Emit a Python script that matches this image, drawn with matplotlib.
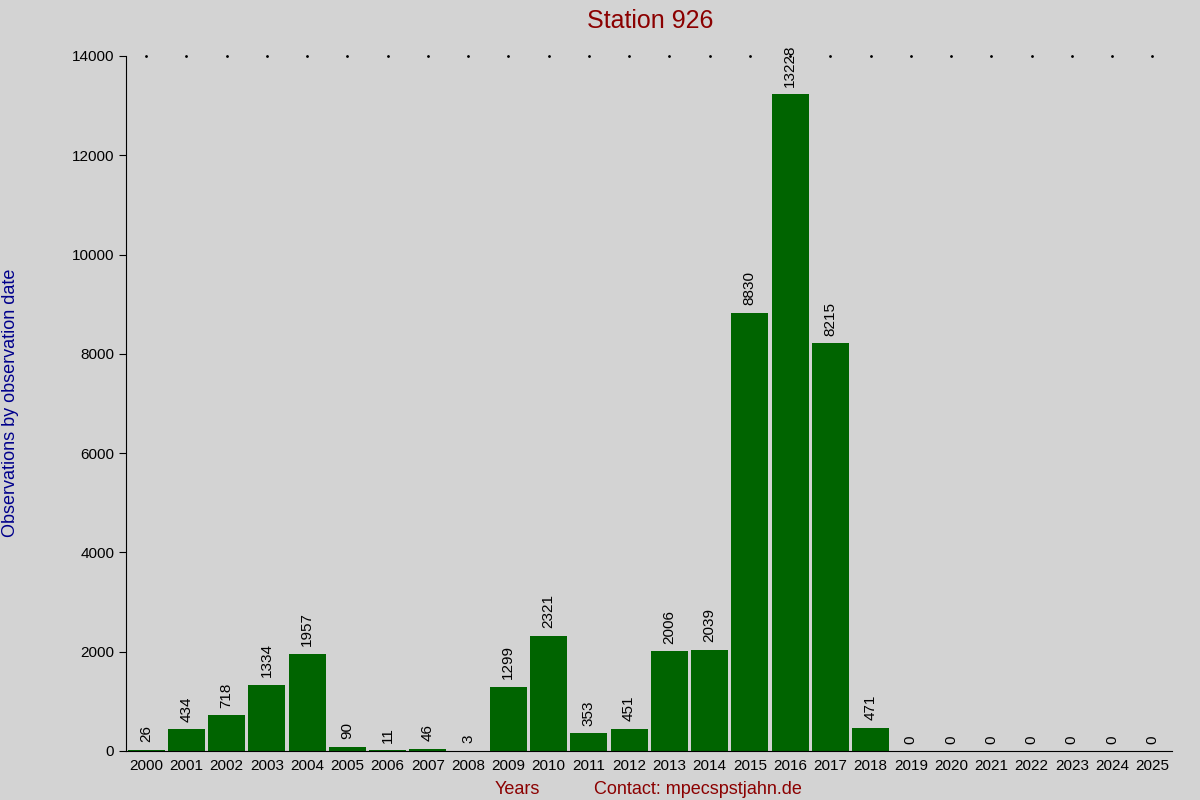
import matplotlib
matplotlib.use("Agg")
import matplotlib.pyplot as plt

years = [str(y) for y in range(2000, 2026)]
values = [26, 434, 718, 1334, 1957, 90, 11, 46, 3, 1299, 2321, 353, 451, 2006, 2039,
          8830, 13228, 8215, 471, 0, 0, 0, 0, 0, 0, 0]
yticks = [0, 2000, 4000, 6000, 8000, 10000, 12000, 14000]

bg = "#d3d3d3"
fig = plt.figure(figsize=(12, 8), dpi=100, facecolor=bg)
ax = fig.add_axes([0.105, 0.06125, 0.872, 0.86875], facecolor=bg)
x = list(range(len(years)))
ax.bar(x, values, width=0.92, color="#006400")
for xi, v in zip(x, values):
    ax.text(xi, v + 150, str(v), rotation=90, ha="center", va="bottom", fontsize=11,
            family="Liberation Sans")
ax.set_xlim(-0.5, len(years) - 0.5)
ax.set_ylim(0, 14000)
ax.set_xticks(x)
ax.set_xticklabels(years, family="Liberation Sans", fontsize=11)
ax.set_yticks(yticks)
ax.set_yticklabels([str(t) for t in yticks], family="Liberation Sans", fontsize=11)
ax.tick_params(axis="x", length=0, pad=6)
ax.tick_params(axis="y", length=5, direction="out")
for s in ["top", "right"]:
    ax.spines[s].set_visible(False)
ax.scatter(x, [14000] * len(x), s=1, color="black", clip_on=False)
fig.text(0.5417, 0.965, "Station 926", color="#8b0000", fontsize=18, ha="center",
         family="Liberation Sans")
fig.text(0.431, 0.007, "Years", color="#8b0000", fontsize=13, ha="center", family="Liberation Sans")
fig.text(0.582, 0.007, "Contact: mpecspstjahn.de", color="#8b0000", fontsize=13, ha="center",
         family="Liberation Sans")
fig.text(0.009, 0.497, "Observations by observation date", color="#00008b", fontsize=13,
         rotation=90, ha="center", va="center", family="Liberation Sans")
fig.savefig("out.png", dpi=100, facecolor=bg)
